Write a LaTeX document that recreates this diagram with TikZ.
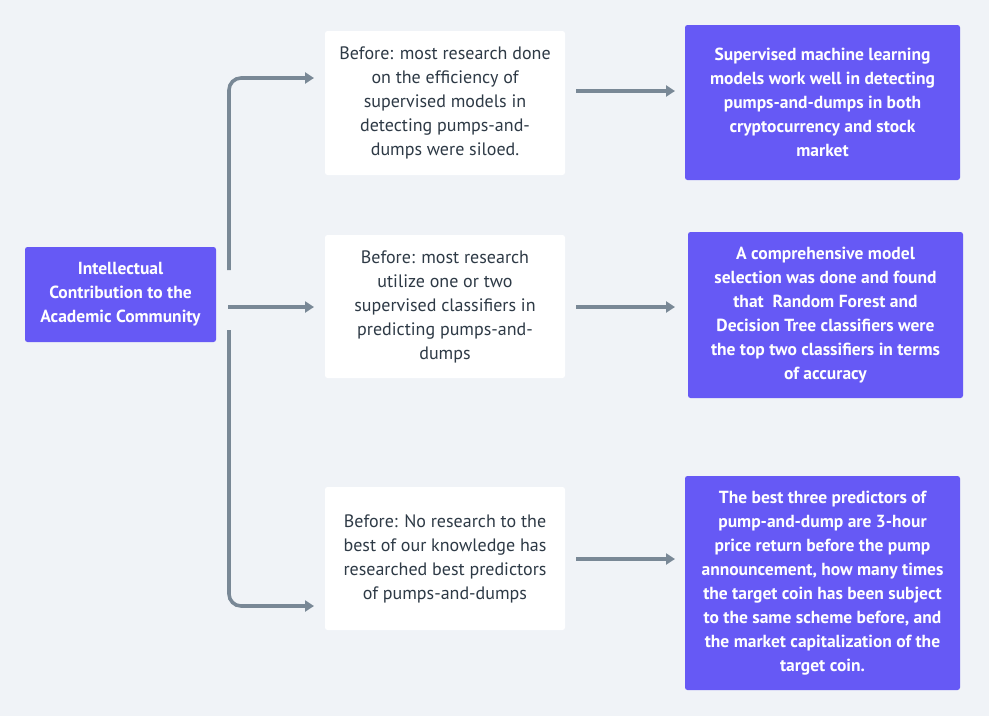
\documentclass[tikz,border=0pt]{standalone}
\usepackage{fontspec}
\setmainfont{PT Sans}
\usetikzlibrary{arrows.meta}
\definecolor{bg}{HTML}{F0F3F7}
\definecolor{purp}{HTML}{6659F5}
\definecolor{conn}{HTML}{798896}
\definecolor{txt}{HTML}{2E3A46}
\tikzset{
  base/.style={rounded corners=2.5pt, align=center, inner sep=0pt, font=\fontsize{18}{24}\selectfont},
  pbox/.style={base, fill=purp, text=white, font=\fontsize{17.5}{24}\selectfont\bfseries},
  wbox/.style={base, fill=white, text=txt},
  conn/.style={draw=conn, line width=3.6pt, -{Triangle[length=9pt,width=11pt]}, rounded corners=12pt}
}
\begin{document}
\begin{tikzpicture}[x=1pt,y=-1pt]
\useasboundingbox[fill=bg] (0,0) rectangle (989,716);
% left
\node[pbox, minimum width=191pt, minimum height=95pt] (L) at (120.5,294.5) {Intellectual\\Contribution to the\\Academic Community};
% white boxes
\node[wbox, minimum width=240pt, minimum height=144pt] (W1) at (445,103) {Before: most research done\\on the efficiency of\\supervised models in\\detecting pumps-and-\\dumps were siloed.};
\node[wbox, minimum width=240pt, minimum height=143pt] (W2) at (445,306.5) {Before: most research\\utilize one or two\\supervised classifiers in\\predicting pumps-and-\\dumps};
\node[wbox, minimum width=240pt, minimum height=143pt] (W3) at (445,558.5) {Before: No research to the\\best of our knowledge has\\researched best predictors\\of pumps-and-dumps};
% purple boxes
\node[pbox, minimum width=275pt, minimum height=155pt] (P1) at (822.5,102.5) {Supervised machine learning\\models work well in detecting\\pumps-and-dumps in both\\cryptocurrency and stock\\market};
\node[pbox, minimum width=275pt, minimum height=166pt] (P2) at (825.5,315) {A comprehensive model\\selection was done and found\\that\ \ Random Forest and\\Decision Tree classifiers were\\the top two classifiers in terms\\of accuracy};
\node[pbox, minimum width=275pt, minimum height=214pt] (P3) at (822.5,583) {The best three predictors of\\pump-and-dump are 3-hour\\price return before the pump\\announcement, how many times\\the target coin has been subject\\to the same scheme before, and\\the market capitalization of the\\target coin.};
% coordinates
\coordinate (a1) at (229,270);
\coordinate (b1) at (229,78);
\coordinate (e1) at (314,78);
\coordinate (a2) at (228,307);
\coordinate (e2) at (314,307);
\coordinate (a3) at (229,330);
\coordinate (b3) at (229,606);
\coordinate (e3) at (314,606);
\draw[conn] (a1) -- (b1) -- (e1);
\draw[conn] (a2) -- (e2);
\draw[conn] (a3) -- (b3) -- (e3);
\coordinate (r1) at (576,91);
\coordinate (s1) at (675,91);
\coordinate (r2) at (576,307);
\coordinate (s2) at (675,307);
\coordinate (r3) at (576,559);
\coordinate (s3) at (675,559);
\draw[conn] (r1) -- (s1);
\draw[conn] (r2) -- (s2);
\draw[conn] (r3) -- (s3);
\end{tikzpicture}
\end{document}
